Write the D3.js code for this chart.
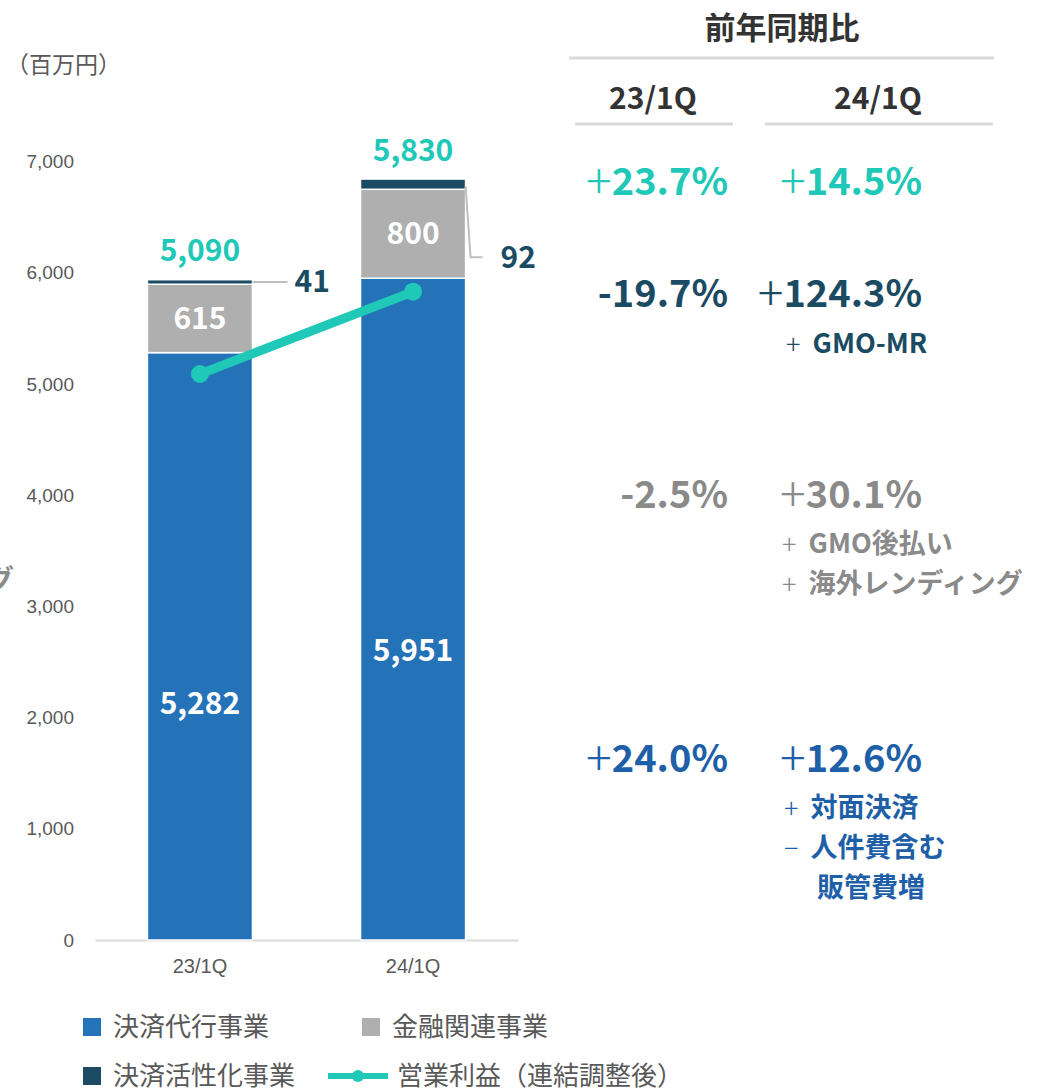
<!DOCTYPE html>
<html><head><meta charset="utf-8">
<script src="https://cdn.jsdelivr.net/npm/d3@7"></script>
<style>
html,body{margin:0;padding:0;background:#fff;}
svg{display:block;font-family:"Noto Sans CJK JP","Noto Sans",sans-serif;}
</style></head>
<body>
<svg id="c" width="1048" height="1088"></svg>
<script>
// ---- data ----
const categories = ["23/1Q", "24/1Q"];
const kessaiDaiko = [5282, 5951];   // 決済代行事業
const kinyuKanren = [615, 800];     // 金融関連事業
const kasseika = [41, 92];          // 決済活性化事業
const eigyoRieki = [5090, 5830];    // 営業利益（連結調整後）
const yTicks = [0, 1000, 2000, 3000, 4000, 5000, 6000, 7000];
const legendLabels = ["決済代行事業", "金融関連事業", "決済活性化事業", "営業利益（連結調整後）"];
const tableTitle = "前年同期比";
const tableCols = ["23/1Q", "24/1Q"];
const yoyOperating = ["+23.7%", "+14.5%"];
const yoyKasseika = ["-19.7%", "+124.3%"];
const yoyKinyu = ["-2.5%", "+30.1%"];
const yoyDaiko = ["+24.0%", "+12.6%"];
const notesKasseika = ["+ GMO-MR"];
const notesKinyu = ["+ GMO後払い", "+ 海外レンディング"];
const notesDaiko = ["+ 対面決済", "− 人件費含む", "　販管費増"];

const C = {blue:"#2472b8", gray:"#afafaf", dark:"#1a4b63", teal:"#20c8b8",
           txtBlue:"#1e5fa8", txtGray:"#8a8a8a", axis:"#595959", rule:"#d9d9d9"};
const daikoLabelPos = [0.403, 0.438]; // layout: vertical placement of label within bar (fraction)

const svg = d3.select("#c");
const y = d3.scaleLinear().domain([0, 7000]).range([940, 161.6]);
const x = d3.scaleBand().domain(categories).range([95, 518]).paddingInner(0.507).paddingOuter(0.246);
const bw = x.bandwidth();

// unit label
svg.append("text").attr("x", 6).attr("y", 65).attr("dy", "0.36em").attr("font-size", 23).attr("fill", C.axis).text("（百万円）");

// y axis
const yAxis = svg.append("g").attr("transform", "translate(74,0)")
  .call(d3.axisLeft(y).tickValues(yTicks).tickSize(0).tickPadding(0).tickFormat(d3.format(",")));
yAxis.select(".domain").remove();
yAxis.selectAll("text").attr("font-size", 19).attr("fill", C.axis).attr("font-family", "inherit");

// x axis
const xAxis = svg.append("g").attr("transform", `translate(0,${y(0)})`)
  .call(d3.axisBottom(x).tickSize(0).tickPadding(19));
xAxis.select(".domain").attr("stroke", C.rule).attr("stroke-width", 2);
xAxis.selectAll("text").attr("font-size", 20).attr("fill", C.axis).attr("font-family", "inherit");

// stacked bars
const stackData = categories.map((c, i) => ({cat: c, daiko: kessaiDaiko[i], kinyu: kinyuKanren[i], kasseika: kasseika[i]}));
const stack = d3.stack().keys(["daiko", "kinyu", "kasseika"])(stackData);
const colors = {daiko: C.blue, kinyu: C.gray, kasseika: C.dark};
svg.append("g").selectAll("g").data(stack).join("g").attr("fill", d => colors[d.key])
  .selectAll("rect").data(d => d).join("rect")
  .attr("x", d => x(d.data.cat)).attr("width", bw)
  .attr("y", d => y(d[1])).attr("height", d => y(d[0]) - y(d[1]))
  .attr("stroke", "#fff").attr("stroke-width", 1.5);

// labels inside bars
categories.forEach((c, i) => {
  const cx = x(c) + bw / 2;
  svg.append("text").attr("x", cx).attr("y", y(kessaiDaiko[i] * daikoLabelPos[i])).attr("dy", "0.35em")
    .attr("text-anchor", "middle").attr("font-size", 30).attr("font-weight", 700).attr("fill", "#fff")
    .text(d3.format(",")(kessaiDaiko[i]));
  svg.append("text").attr("x", cx).attr("y", y(kessaiDaiko[i] + kinyuKanren[i] / 2)).attr("dy", "0.35em")
    .attr("text-anchor", "middle").attr("font-size", 30).attr("font-weight", 700).attr("fill", "#fff")
    .text(d3.format(",")(kinyuKanren[i]));
  const top = kessaiDaiko[i] + kinyuKanren[i] + kasseika[i];
  svg.append("text").attr("x", cx).attr("y", y(top) - 29).attr("dy", "0.35em")
    .attr("text-anchor", "middle").attr("font-size", 30).attr("font-weight", 700).attr("fill", C.teal)
    .text(d3.format(",")(eigyoRieki[i]));
});

// leader lines for 決済活性化事業
{
  const i = 0, c = categories[i];
  const yy = y(kessaiDaiko[i] + kinyuKanren[i] + kasseika[i] / 2);
  const xr = x(c) + bw;
  svg.append("path").attr("d", `M${xr},${yy}H${xr + 35}`).attr("stroke", "#bfbfbf").attr("stroke-width", 2).attr("fill", "none");
  svg.append("text").attr("x", xr + 42).attr("y", yy).attr("dy", "0.35em").attr("font-size", 30)
    .attr("font-weight", 700).attr("fill", C.dark).text(kasseika[i]);
}
{
  const i = 1, c = categories[i];
  const yy = y(kessaiDaiko[i] + kinyuKanren[i] + kasseika[i] / 2);
  const xr = x(c) + bw;
  svg.append("path").attr("d", `M${xr},${yy + 2}L${xr + 5},${yy + 73}H${xr + 17}`).attr("stroke", "#bfbfbf").attr("stroke-width", 2).attr("fill", "none");
  svg.append("text").attr("x", xr + 35).attr("y", yy + 73).attr("dy", "0.35em").attr("font-size", 30)
    .attr("font-weight", 700).attr("fill", C.dark).text(kasseika[i]);
}

// operating profit line
const line = d3.line().x((d, i) => x(categories[i]) + bw / 2).y(d => y(d));
svg.append("path").datum(eigyoRieki).attr("d", line).attr("stroke", C.teal).attr("stroke-width", 9)
  .attr("fill", "none").attr("stroke-linecap", "round");
svg.selectAll("circle.pt").data(eigyoRieki).join("circle").attr("class", "pt")
  .attr("cx", (d, i) => x(categories[i]) + bw / 2).attr("cy", d => y(d)).attr("r", 9).attr("fill", C.teal);

// legend
const lg = svg.append("g").attr("font-size", 26).attr("fill", C.axis);
const legendPos = [[83, 1027], [362, 1027], [83, 1076], [328, 1076]];
const legendColors = [C.blue, C.gray, C.dark, C.teal];
legendLabels.forEach((t, i) => {
  const [lx, ly] = legendPos[i];
  if (i < 3) {
    lg.append("rect").attr("x", lx).attr("y", ly - 9).attr("width", 18).attr("height", 18).attr("fill", legendColors[i]);
    lg.append("text").attr("x", lx + 30).attr("y", ly).attr("dy", "0.36em").text(t);
  } else {
    lg.append("line").attr("x1", lx).attr("x2", lx + 60).attr("y1", ly).attr("y2", ly).attr("stroke", C.teal).attr("stroke-width", 6);
    lg.append("circle").attr("cx", lx + 30).attr("cy", ly).attr("r", 6).attr("fill", C.teal);
    lg.append("text").attr("x", lx + 69).attr("y", ly).attr("dy", "0.36em").text(t);
  }
});

// clipped stray glyph at left edge
svg.append("text").attr("x", -14).attr("y", 580).attr("dy", "0.36em").attr("font-size", 28)
  .attr("font-weight", 700).attr("fill", C.txtGray).text("グ");

// right-hand table
svg.append("text").attr("x", 782).attr("y", 28).attr("dy", "0.36em").attr("text-anchor", "middle")
  .attr("font-size", 31).attr("font-weight", 700).attr("fill", "#333").text(tableTitle);
svg.append("line").attr("x1", 569).attr("x2", 994).attr("y1", 58).attr("y2", 58).attr("stroke", C.rule).attr("stroke-width", 3);
const colCenters = [653, 878];
const colRules = [[575, 733], [765, 993]];
tableCols.forEach((t, i) => {
  svg.append("text").attr("x", colCenters[i]).attr("y", 98).attr("dy", "0.36em").attr("text-anchor", "middle")
    .attr("font-size", 30).attr("font-weight", 700).attr("fill", "#333").text(t);
  svg.append("line").attr("x1", colRules[i][0]).attr("x2", colRules[i][1]).attr("y1", 124).attr("y2", 124)
    .attr("stroke", C.rule).attr("stroke-width", 3);
});

const colRight = [728, 922];
function pct(vals, yy, color) {
  vals.forEach((v, i) => {
    const t = svg.append("text").attr("x", colRight[i]).attr("y", yy + 0.36 * 38).attr("text-anchor", "end")
      .attr("font-size", 38).attr("fill", color);
    if (v[0] === "+") {
      t.append("tspan").attr("font-weight", 200).attr("font-size", 48).attr("dy", 4).text("+");
      t.append("tspan").attr("font-weight", 700).attr("dy", -4).text(v.slice(1));
    } else {
      t.append("tspan").attr("font-weight", 700).text(v);
    }
  });
}
pct(yoyOperating, 181, C.teal);
pct(yoyKasseika, 293, C.dark);
pct(yoyKinyu, 494, C.txtGray);
pct(yoyDaiko, 758, C.txtBlue);

function notes(list, x0, y0, step, color) {
  list.forEach((n, i) => {
    const t = svg.append("text").attr("x", x0).attr("y", y0 + i * step + 0.36 * 27)
      .attr("font-size", 27).attr("fill", color);
    t.append("tspan").attr("font-weight", 300).attr("dy", 1).text(n[0]);
    t.append("tspan").attr("font-weight", 700).attr("dx", 6).attr("dy", -1).text(n.slice(1));
  });
}
notes(notesKasseika, 786, 343, 40, C.dark);
notes(notesKinyu, 782, 543, 40, C.txtGray);
notes(notesDaiko, 784, 807, 40, C.txtBlue);
</script>
</body></html>
